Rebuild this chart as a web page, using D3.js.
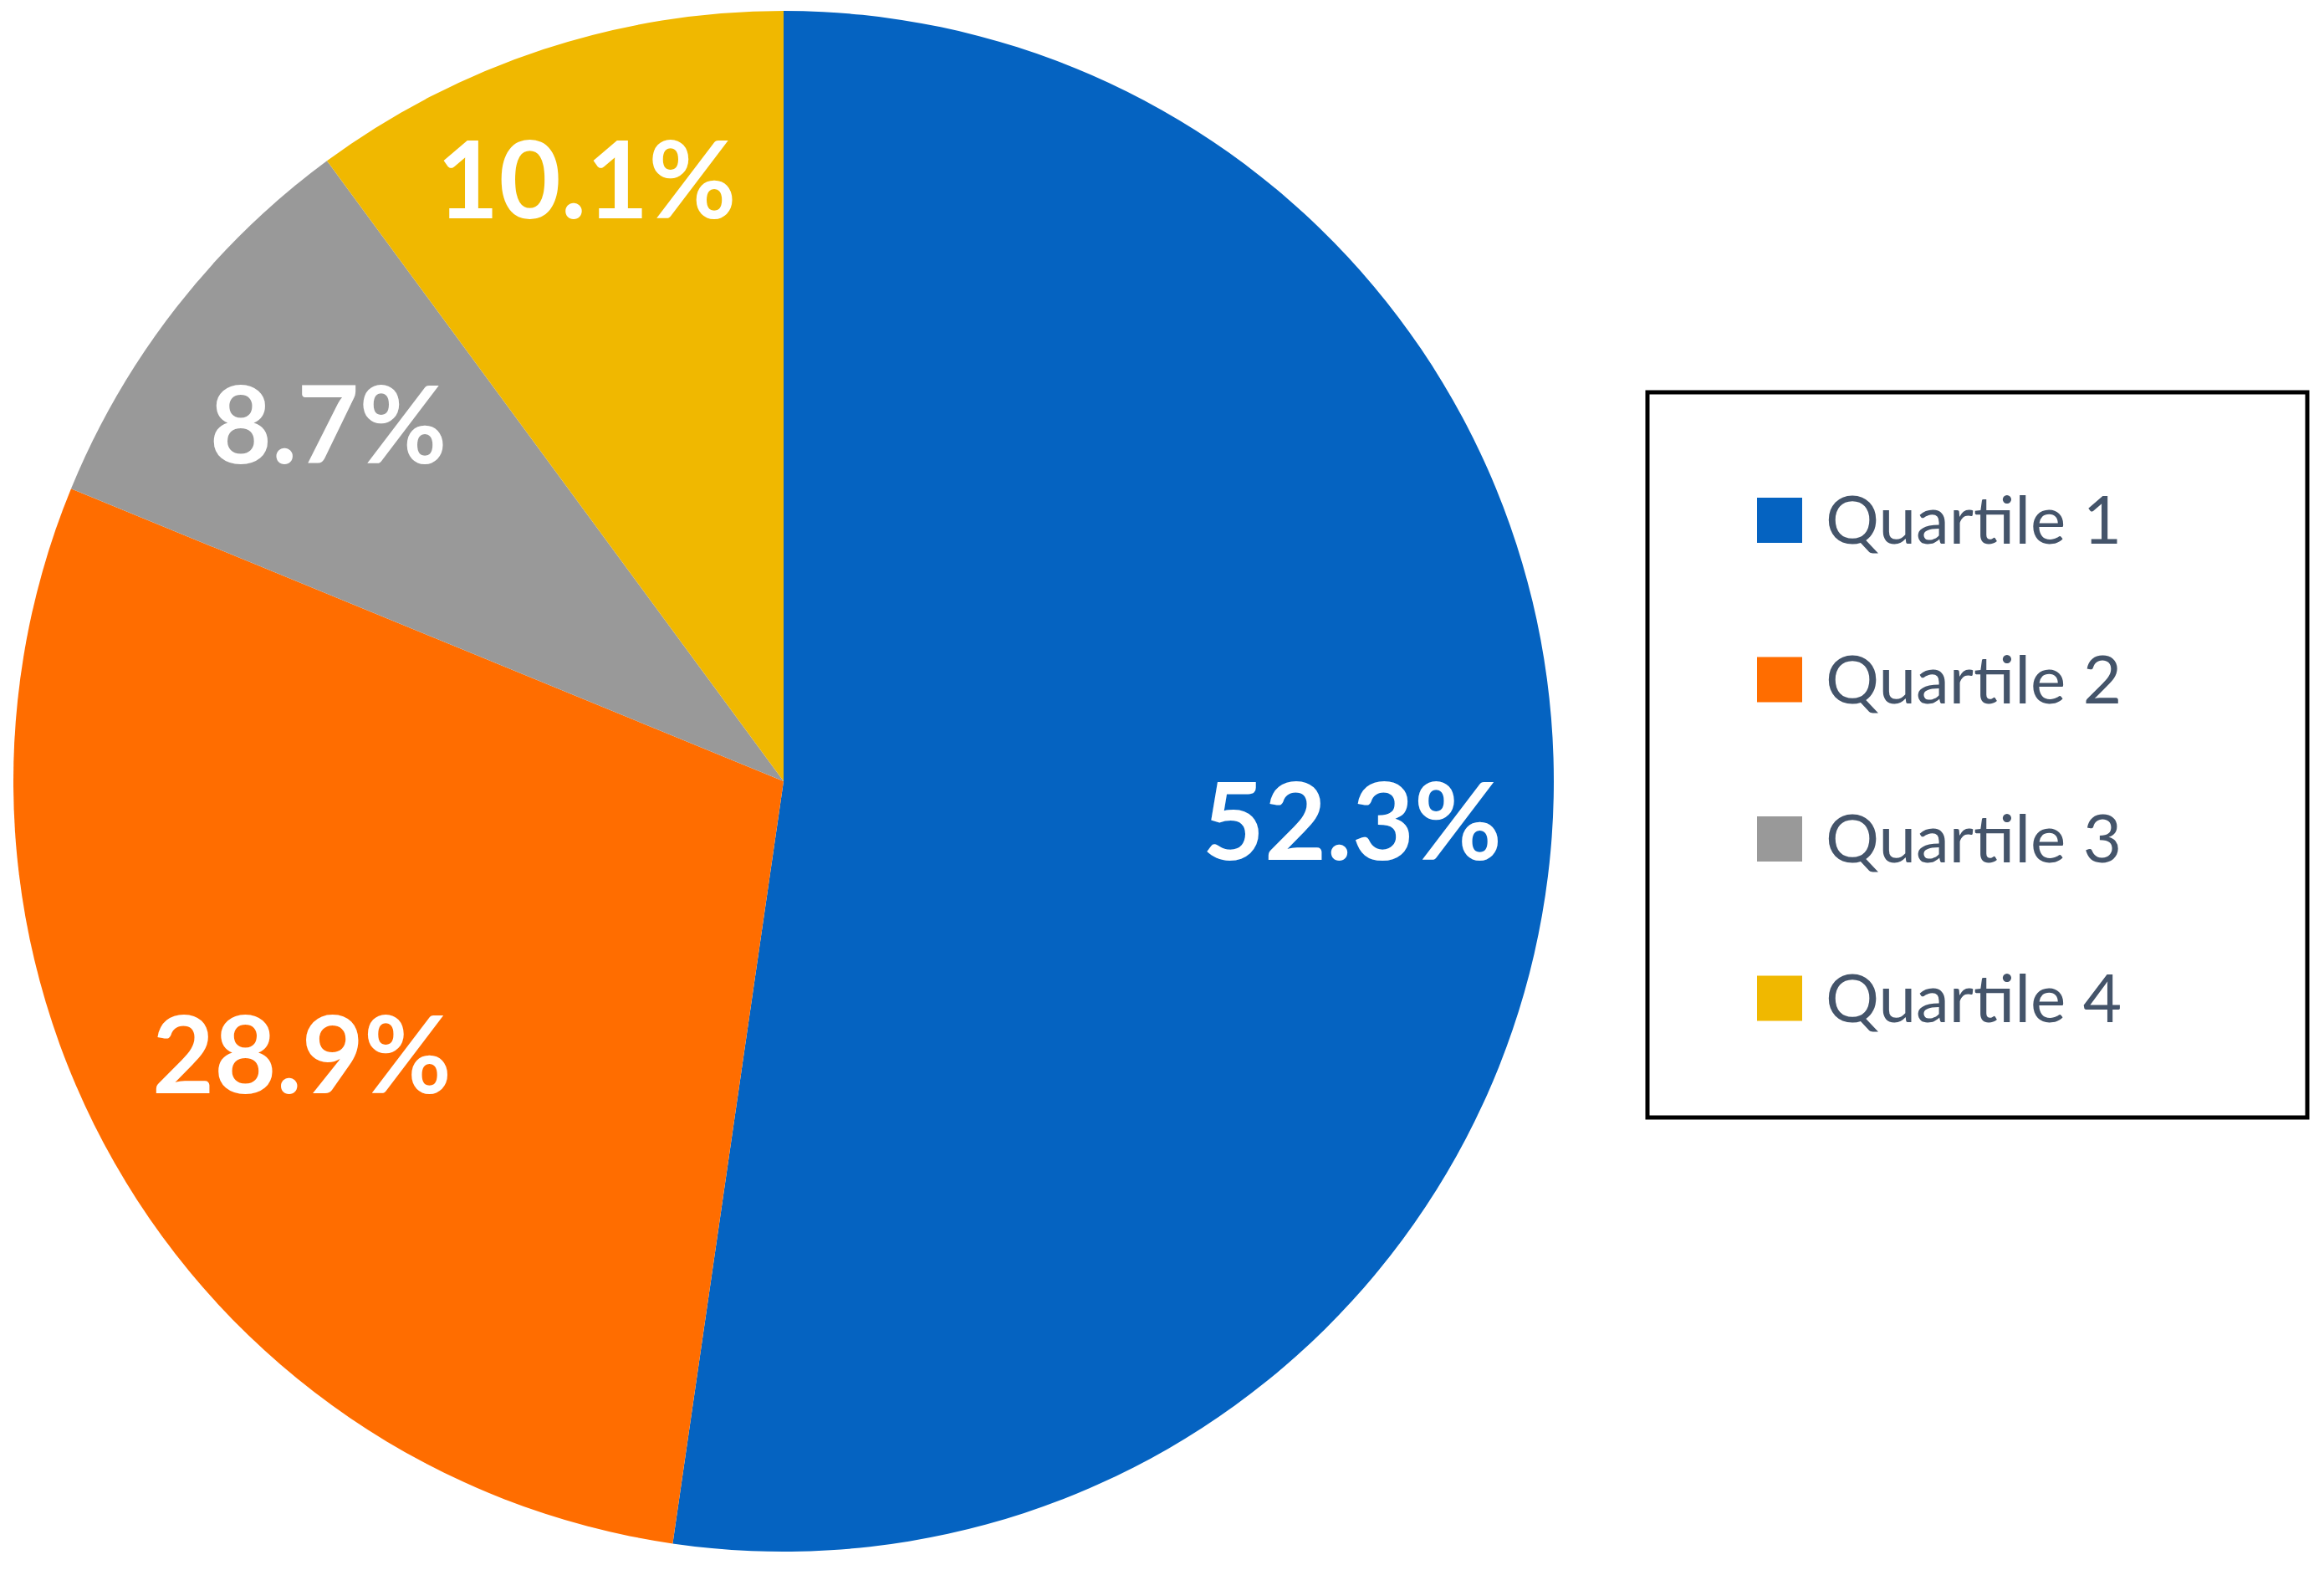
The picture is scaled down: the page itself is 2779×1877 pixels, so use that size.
<!DOCTYPE html>
<html>
<head>
<meta charset="utf-8">
<script src="https://cdn.jsdelivr.net/npm/d3@7"></script>
<style>
  body { margin: 0; background: #fff; }
  text { font-family: Lato, "Open Sans", sans-serif; }
</style>
</head>
<body>
<svg id="chart" width="2779" height="1877"></svg>
<script>
const categories = ['Quartile 1', 'Quartile 2', 'Quartile 3', 'Quartile 4'];
const values = [52.3, 28.9, 8.7, 10.1];
const colors = ['#0563C1', '#FF6D00', '#999999', '#F0B800'];

const svg = d3.select('#chart');
const cx = 937, cy = 934, r = 921;

const color = d3.scaleOrdinal().domain(categories).range(colors);
const pie = d3.pie().sort(null).value(d => d.value);
const arc = d3.arc().innerRadius(0).outerRadius(r);

const rows = categories.map((c, i) => ({ cat: c, value: values[i] }));

const g = svg.append('g').attr('transform', `translate(${cx},${cy})`);
const arcs = pie(rows);

g.selectAll('path')
    .data(arcs)
    .join('path')
    .attr('d', arc)
    .attr('fill', d => color(d.data.cat));

// label positions, radius fraction picked per slice to match the original
const labelR = [0.74, 0.72, 0.75, 0.82];
g.selectAll('text.lbl')
    .data(arcs)
    .join('text')
    .attr('class', 'lbl')
    .attr('transform', (d, i) => {
        const a = (d.startAngle + d.endAngle) / 2;
        return `translate(${Math.sin(a) * r * labelR[i]},${-Math.cos(a) * r * labelR[i]})`;
    })
    .attr('text-anchor', 'middle')
    .attr('dy', '0.35em')
    .attr('fill', '#fff')
    .attr('font-weight', 'bold')
    .attr('font-size', 128)
    .text(d => d.data.value.toFixed(1) + '%');

// legend
const legend = svg.append('g');
legend.append('rect')
    .attr('x', 1970).attr('y', 469)
    .attr('width', 789).attr('height', 867)
    .attr('fill', 'none').attr('stroke', '#000').attr('stroke-width', 5);

const item = legend.selectAll('g.item')
    .data(categories)
    .join('g')
    .attr('class', 'item')
    .attr('transform', (d, i) => `translate(2101,${622 + i * 190.5})`);

item.append('rect')
    .attr('x', 0).attr('y', -27)
    .attr('width', 54).attr('height', 54)
    .attr('fill', d => color(d));

item.append('text')
    .attr('x', 82).attr('dy', '0.35em')
    .attr('font-size', 80)
    .attr('fill', '#44546A')
    .text(d => d);
</script>
</body>
</html>
